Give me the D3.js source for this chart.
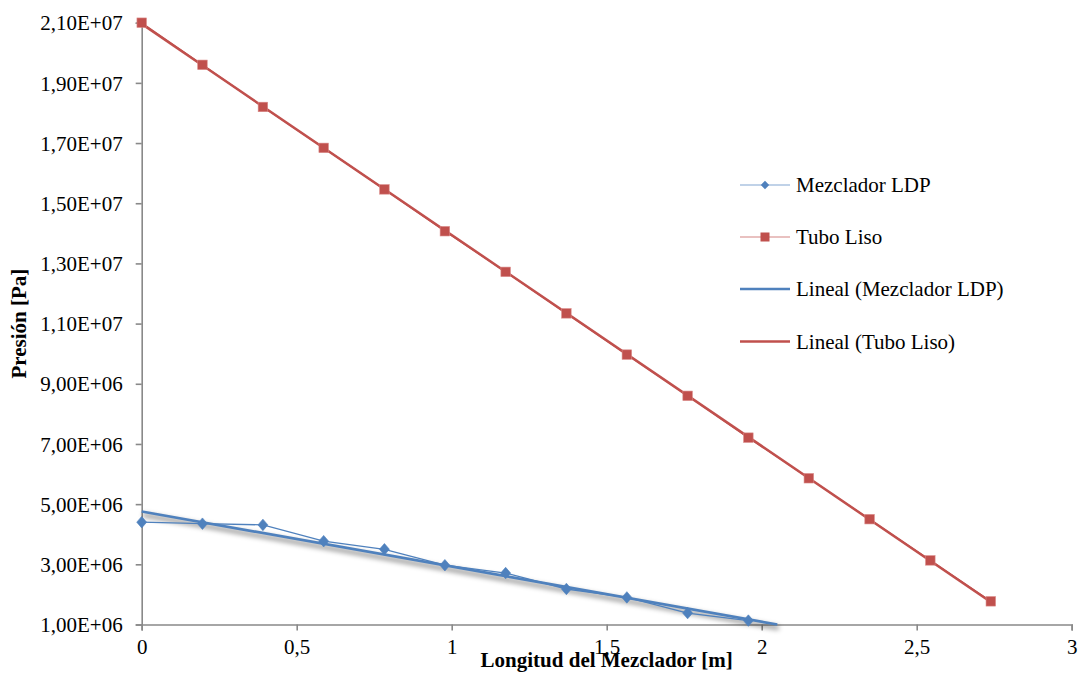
<!DOCTYPE html>
<html>
<head>
<meta charset="utf-8">
<script src="https://cdn.jsdelivr.net/npm/d3@7"></script>
<style>
  html, body { margin: 0; padding: 0; background: #fff; }
  svg { display: block; font-family: "Liberation Serif", "Times New Roman", serif; }
</style>
</head>
<body>
<svg id="chart" width="1085" height="681"></svg>
<script>
// Longitud del mezclador [m] en cada punto de medición
const longitud = [0, 0.196, 0.391, 0.587, 0.783, 0.978, 1.174, 1.370, 1.565, 1.761, 1.957, 2.152, 2.348, 2.544, 2.739];

// Presión [Pa] - Mezclador LDP (11 puntos)
const presionMezclador = [4.40e6, 4.35e6, 4.31e6, 3.77e6, 3.50e6, 2.97e6, 2.71e6, 2.18e6, 1.90e6, 1.38e6, 1.13e6];

// Presión [Pa] - Tubo Liso (15 puntos)
const presionTubo = [2.10e7, 1.96e7, 1.82e7, 1.684e7, 1.546e7, 1.407e7, 1.272e7, 1.134e7, 9.97e6, 8.60e6, 7.21e6, 5.86e6, 4.50e6, 3.13e6, 1.77e6];

// Marcas de los ejes
const xTicks = [0, 0.5, 1, 1.5, 2, 2.5, 3];
const yTicks = [1e6, 3e6, 5e6, 7e6, 9e6, 1.1e7, 1.3e7, 1.5e7, 1.7e7, 1.9e7, 2.1e7];

const seriesNames = ["Mezclador LDP", "Tubo Liso", "Lineal (Mezclador LDP)", "Lineal (Tubo Liso)"];

const AZUL = "#4F81BD";
const ROJO = "#C0504D";
const EJE = "#898989";
const FONT = 21;
const SERIF = "'Liberation Serif', 'Times New Roman', serif";

const svg = d3.select("#chart");
const m = { left: 141.7, right: 1071.7, top: 22.7, bottom: 624.5 };

const x = d3.scaleLinear().domain([0, 3]).range([m.left, m.right]);
const y = d3.scaleLinear().domain([1e6, 2.1e7]).range([m.bottom, m.top]);

// Formato tipo Excel: 2,10E+07
function sci(v) {
  const e = Math.floor(Math.log10(v));
  const mant = (v / Math.pow(10, e)).toFixed(2).replace(".", ",");
  return mant + "E+" + String(e).padStart(2, "0");
}
const fmtX = v => String(v).replace(".", ",");

// Sombra de la línea de tendencia
const defs = svg.append("defs");
const f = defs.append("filter").attr("id", "sombra").attr("x", "-5%").attr("y", "-50%").attr("width", "110%").attr("height", "200%");
f.append("feGaussianBlur").attr("stdDeviation", 2.4);

// Ejes
const yAxis = d3.axisLeft(y).tickValues(yTicks).tickSize(6).tickFormat(sci).tickPadding(13);
const xAxis = d3.axisBottom(x).tickValues(xTicks).tickSize(6).tickFormat(fmtX).tickPadding(9);

const gy = svg.append("g").attr("transform", `translate(${m.left},0)`).call(yAxis);
const gx = svg.append("g").attr("transform", `translate(0,${m.bottom})`).call(xAxis);
[gx, gy].forEach(g => {
  g.attr("font-family", SERIF);
  g.select(".domain").attr("stroke", EJE).attr("stroke-width", 1.6);
  g.selectAll(".tick line").attr("stroke", EJE).attr("stroke-width", 1.6);
  g.selectAll(".tick text").attr("fill", "#000").attr("font-size", FONT).attr("font-family", SERIF);
});
gy.selectAll(".tick text").attr("dy", "0.34em");
gx.selectAll(".tick text").attr("dy", "0.71em");

// Títulos de ejes
svg.append("text")
  .attr("x", (m.left + m.right) / 2).attr("y", 667)
  .attr("text-anchor", "middle").attr("font-weight", "bold").attr("font-size", FONT)
  .attr("font-family", SERIF)
  .text("Longitud del Mezclador [m]");
svg.append("text")
  .attr("transform", `translate(26,${(m.top + m.bottom) / 2}) rotate(-90)`)
  .attr("text-anchor", "middle").attr("font-weight", "bold").attr("font-size", FONT)
  .attr("font-family", SERIF)
  .text("Presión [Pa]");

// Regresión lineal
function ajuste(xs, ys) {
  const n = ys.length;
  const mx = d3.mean(xs.slice(0, n)), my = d3.mean(ys);
  let sxy = 0, sxx = 0;
  for (let i = 0; i < n; i++) { sxy += (xs[i] - mx) * (ys[i] - my); sxx += (xs[i] - mx) ** 2; }
  const b = sxy / sxx;
  return { b, a: my - b * mx };
}

const datosMez = presionMezclador.map((p, i) => ({ x: longitud[i], y: p }));
const datosTubo = presionTubo.map((p, i) => ({ x: longitud[i], y: p }));

const linea = d3.line().x(d => x(d.x)).y(d => y(d.y));

// Tendencia Mezclador LDP: desde 0 hasta el mínimo del eje Y
const rMez = ajuste(longitud, presionMezclador);
const xFinMez = (y.domain()[0] - rMez.a) / rMez.b;
const tendMez = [{ x: 0, y: rMez.a }, { x: xFinMez, y: y.domain()[0] }];

// Tendencia Tubo Liso: rango de los datos
const rTubo = ajuste(longitud, presionTubo);
const xMaxTubo = longitud[presionTubo.length - 1];
const tendTubo = [{ x: 0, y: rTubo.a }, { x: xMaxTubo, y: rTubo.a + rTubo.b * xMaxTubo }];

// Sombra bajo la tendencia azul
svg.append("path").datum(tendMez).attr("d", linea)
  .attr("fill", "none").attr("stroke", "#000").attr("stroke-opacity", 0.42)
  .attr("stroke-width", 4).attr("transform", "translate(1.5,3.5)")
  .attr("filter", "url(#sombra)");

// Series de datos (líneas finas)
svg.append("path").datum(datosMez).attr("d", linea)
  .attr("fill", "none").attr("stroke", AZUL).attr("stroke-width", 1.3);
svg.append("path").datum(datosTubo).attr("d", linea)
  .attr("fill", "none").attr("stroke", ROJO).attr("stroke-width", 1.3);

// Líneas de tendencia
svg.append("path").datum(tendMez).attr("d", linea)
  .attr("fill", "none").attr("stroke", AZUL).attr("stroke-width", 2.7);
svg.append("path").datum(tendTubo).attr("d", linea)
  .attr("fill", "none").attr("stroke", ROJO).attr("stroke-width", 2.5);

// Marcadores
const rombo = d3.symbol().type(d3.symbolDiamond2).size(70);
svg.append("g").selectAll("path").data(datosMez).join("path")
  .attr("d", rombo)
  .attr("transform", d => `translate(${x(d.x)},${y(d.y)}) scale(0.95,1.1)`)
  .attr("fill", AZUL).attr("stroke", AZUL).attr("stroke-width", 0.6);
const lado = 9.5;
svg.append("g").selectAll("rect").data(datosTubo).join("rect")
  .attr("x", d => x(d.x) - lado / 2).attr("y", d => y(d.y) - lado / 2)
  .attr("width", lado).attr("height", lado)
  .attr("fill", ROJO).attr("stroke", "#d98886").attr("stroke-width", 0.6);

// Leyenda
const leyY = [185, 237, 289, 341.5];
const leg = svg.append("g");
seriesNames.forEach((name, i) => {
  const col = (i % 2 === 0) ? AZUL : ROJO;
  const yy = leyY[i];
  const gruesa = i >= 2;
  leg.append("line").attr("x1", 740).attr("x2", 790).attr("y1", yy).attr("y2", yy)
    .attr("stroke", col).attr("stroke-width", gruesa ? 2.6 : 1.2)
    .attr("stroke-opacity", gruesa ? 1 : 0.7);
  if (i === 0) {
    leg.append("path").attr("d", d3.symbol().type(d3.symbolDiamond2).size(45))
      .attr("transform", `translate(765,${yy})`).attr("fill", AZUL);
  } else if (i === 1) {
    leg.append("rect").attr("x", 765 - 4.5).attr("y", yy - 4.5).attr("width", 9).attr("height", 9)
      .attr("fill", ROJO);
  }
  leg.append("text").attr("x", 796).attr("y", yy).attr("dy", "0.34em")
    .attr("font-size", FONT).attr("font-family", SERIF).attr("fill", "#000").text(name);
});
</script>
</body>
</html>
